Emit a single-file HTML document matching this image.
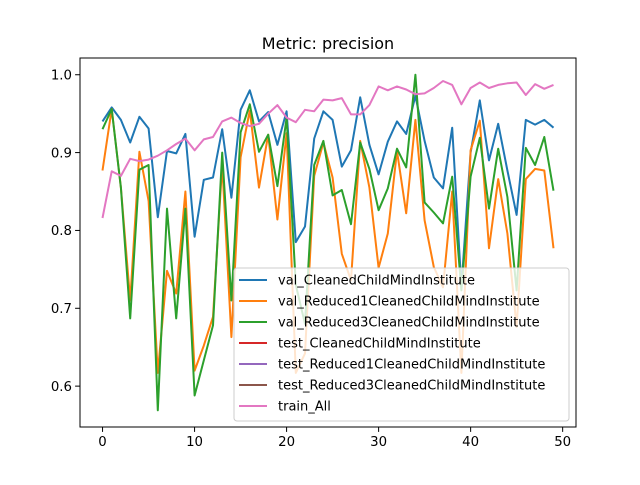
<!DOCTYPE html>
<html><head><meta charset="utf-8"><style>
body{margin:0;background:#fff}
svg text{font-family:"DejaVu Sans","Liberation Sans",sans-serif;fill:#000}
</style></head><body>
<svg id="chart" width="640" height="480" viewBox="0 0 640 480" xmlns="http://www.w3.org/2000/svg">
<rect width="640" height="480" fill="#fff"/>
<text x="328" y="49" font-size="16" text-anchor="middle">Metric: precision</text>
<g id="plot"></g>
<g id="axes"></g>
<g id="legend"></g>
</svg>
<script>
const xTicks=[0,10,20,30,40,50];
const yTicks=[0.6,0.7,0.8,0.9,1.0];
const yTickLabels=["0.6","0.7","0.8","0.9","1.0"];
const seriesNames=["val_CleanedChildMindInstitute","val_Reduced1CleanedChildMindInstitute","val_Reduced3CleanedChildMindInstitute","test_CleanedChildMindInstitute","test_Reduced1CleanedChildMindInstitute","test_Reduced3CleanedChildMindInstitute","train_All"];
const colors=["#1f77b4","#ff7f0e","#2ca02c","#d62728","#9467bd","#8c564b","#e377c2"];
const valCleaned=[.94,.958,.942,.913,.946,.931,.817,.902,.899,.924,.792,.865,.868,.93,.842,.955,.98,.94,.952,.91,.953,.785,.805,.918,.953,.942,.882,.903,.971,.91,.872,.914,.94,.924,.973,.915,.868,.854,.932,.727,.90,.967,.89,.937,.877,.82,.942,.936,.942,.932];
const valReduced1=[.877,.956,.855,.71,.901,.838,.617,.748,.719,.85,.62,.652,.689,.885,.663,.894,.954,.855,.923,.814,.925,.617,.642,.87,.913,.868,.77,.736,.915,.855,.752,.796,.902,.822,.942,.813,.753,.727,.85,.617,.903,.941,.777,.866,.796,.676,.866,.879,.877,.777];
const valReduced3=[.93,.956,.855,.687,.878,.884,.569,.828,.687,.828,.588,.633,.678,.9,.71,.926,.962,.901,.923,.857,.945,.73,.68,.884,.915,.845,.852,.808,.913,.879,.826,.854,.905,.881,1.0,.836,.823,.809,.869,.723,.869,.919,.828,.905,.843,.723,.906,.884,.92,.851];
const testCleaned=[],testReduced1=[],testReduced3=[];
const trainAll=[.816,.876,.87,.892,.889,.891,.896,.903,.911,.918,.903,.917,.92,.94,.945,.938,.934,.937,.95,.961,.945,.939,.955,.953,.968,.967,.97,.949,.949,.961,.985,.98,.985,.981,.975,.976,.983,.992,.987,.962,.983,.99,.983,.987,.989,.99,.974,.988,.982,.987];
const allSeries=[valCleaned,valReduced1,valReduced3,testCleaned,testReduced1,testReduced3,trainAll];
const L=80,R=576,T=58,B=427;
const xMin=-2.45,xMax=51.45,yMin=0.5475,yMax=1.0215;
const xs=v=>L+(v-xMin)/(xMax-xMin)*(R-L);
const ys=v=>B-(v-yMin)/(yMax-yMin)*(B-T);
const NS="http://www.w3.org/2000/svg";
function mk(t,a,p){const e=document.createElementNS(NS,t);for(const k in a)e.setAttribute(k,a[k]);p.appendChild(e);return e;}
const plot=document.getElementById('plot'),axes=document.getElementById('axes'),leg=document.getElementById('legend');
allSeries.forEach((s,i)=>{if(!s.length)return;
 const p=mk('polyline',{points:s.map((v,j)=>xs(j).toFixed(1)+','+ys(v).toFixed(1)).join(' '),fill:'none',stroke:colors[i],'stroke-width':2,'stroke-linejoin':'round'},plot);
 
 
});
const frame=mk('rect',{x:L,y:T,width:R-L,height:B-T,fill:'none',stroke:'#000','stroke-width':1},axes);


xTicks.forEach(t=>{const x=xs(t);
 mk('line',{x1:x,x2:x,y1:B,y2:B+4.9,stroke:'#000','stroke-width':1},axes);
 const tx=mk('text',{x:x,y:B+19,'font-size':13.3,'text-anchor':'middle'},axes);tx.textContent=t;
 
 
});
yTicks.forEach((t,i)=>{const y=ys(t);
 mk('line',{x1:L-4.9,x2:L,y1:y,y2:y,stroke:'#000','stroke-width':1},axes);
 const tx=mk('text',{x:L-8,y:y+4.8,'font-size':13.3,'text-anchor':'end'},axes);tx.textContent=yTickLabels[i];
 
 
});
const box=mk('rect',{x:234,y:268,width:335,height:153,rx:3,fill:'#fff','fill-opacity':0.8,stroke:'#ccc','stroke-width':1},leg);


seriesNames.forEach((n,i)=>{const y=280+i*21;
 const g=mk('g',{},leg);
 
 
 mk('line',{x1:239,x2:267,y1:y,y2:y,stroke:colors[i],'stroke-width':2},g);
 const tx=mk('text',{x:278,y:y+4.5,'font-size':13},g);tx.textContent=n;
});
</script>
</body></html>
